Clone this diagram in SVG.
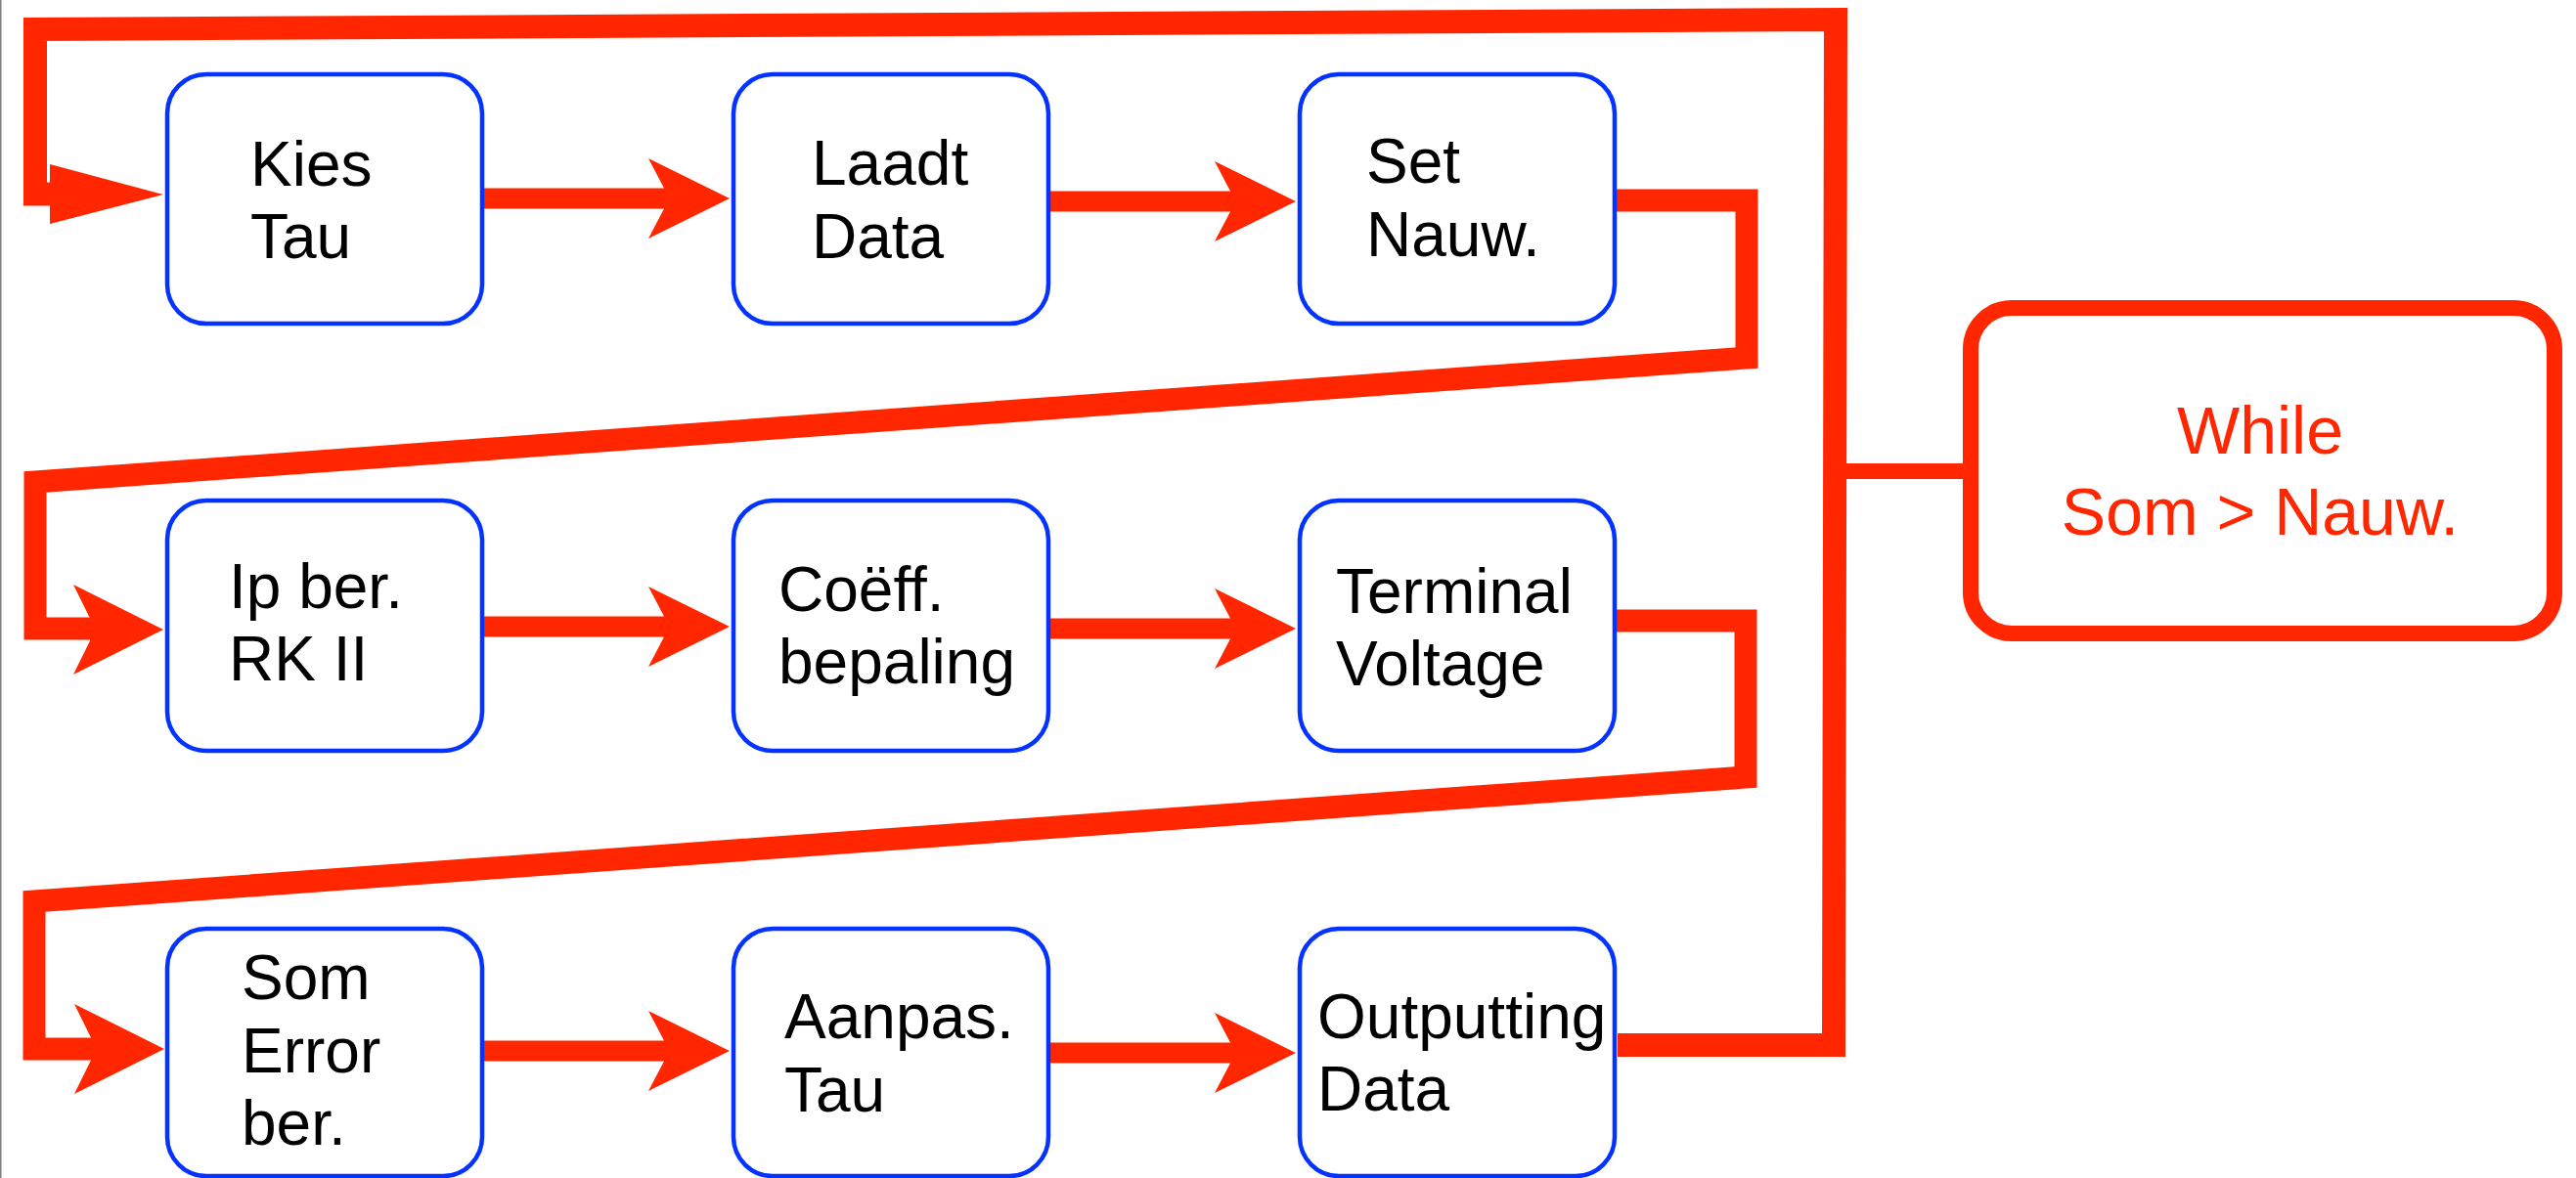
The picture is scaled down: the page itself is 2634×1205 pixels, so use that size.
<svg xmlns="http://www.w3.org/2000/svg" width="2634" height="1205" viewBox="0 0 2634 1205">
<style>
.box{fill:#ffffff;stroke:#0433ff;stroke-width:4.5}
.lbl{font-family:"Liberation Sans",Arial,sans-serif;font-size:64px;fill:#000000}
.wl{font-family:"Liberation Sans",Arial,sans-serif;font-size:68px;fill:#ff2600;text-anchor:middle}
.ln{fill:none;stroke:#ff2600;stroke-linejoin:miter;stroke-linecap:butt;stroke-miterlimit:10}
.hd{fill:#ff2600}
</style>
<defs>
<path id="ah" d="M0,0 L-83,-41 L-67,-10.5 L-67,10.5 L-83,41 Z"/>
<path id="ahL" d="M0,0 L-92,-46 L-75,-11.5 L-75,11.5 L-92,46 Z"/>
</defs>
<rect x="0" y="0" width="2634" height="1205" fill="#ffffff"/>
<line x1="0.75" y1="0" x2="0.75" y2="1205" stroke="#808080" stroke-width="1.5"/>

<g id="connectors">
<!-- row 1 -->
<line class="ln" x1="493" y1="203" x2="681" y2="203" stroke-width="21"/>
<use href="#ah" class="hd" x="746" y="203"/>
<line class="ln" x1="1073" y1="206" x2="1260" y2="206" stroke-width="21"/>
<use href="#ah" class="hd" x="1325" y="206"/>
<!-- row 2 -->
<line class="ln" x1="493" y1="641" x2="681" y2="641" stroke-width="21"/>
<use href="#ah" class="hd" x="746" y="641"/>
<line class="ln" x1="1073" y1="643" x2="1260" y2="643" stroke-width="21"/>
<use href="#ah" class="hd" x="1325" y="643"/>
<!-- row 3 -->
<line class="ln" x1="493" y1="1075" x2="681" y2="1075" stroke-width="21"/>
<use href="#ah" class="hd" x="746" y="1075"/>
<line class="ln" x1="1073" y1="1077" x2="1260" y2="1077" stroke-width="21"/>
<use href="#ah" class="hd" x="1325" y="1077"/>
<!-- Z connector row1 -> row2 -->
<polyline class="ln" points="1652,205 1786,205 1786,366 36,493 36,643 94,643" stroke-width="23"/>
<use href="#ahL" class="hd" x="167" y="644"/>
<!-- Z connector row2 -> row3 -->
<polyline class="ln" points="1652,635 1785,635 1785,795 35,922 35,1073 94,1073" stroke-width="23"/>
<use href="#ahL" class="hd" x="168" y="1073"/>
<!-- loop back -->
<polyline class="ln" points="1654,1069 1875,1069 1877,20 36,30 36,198.5 53,198.5" stroke-width="24"/>
<path class="hd" d="M167,199 L51,168 L51,229 Z"/>
<!-- link to while -->
<line class="ln" x1="1877" y1="482" x2="2008" y2="482" stroke-width="16"/>
</g>

<g id="kies-tau">
<rect class="box" x="171" y="76" width="322" height="255" rx="40" ry="40"/>
<text class="lbl" x="256" y="190">Kies</text>
<text class="lbl" x="256" y="264">Tau</text>
</g>
<g id="laadt-data">
<rect class="box" x="750" y="76" width="322" height="255" rx="40" ry="40"/>
<text class="lbl" x="830" y="189">Laadt</text>
<text class="lbl" x="830" y="264">Data</text>
</g>
<g id="set-nauw">
<rect class="box" x="1329" y="76" width="322" height="255" rx="40" ry="40"/>
<text class="lbl" x="1397" y="187">Set</text>
<text class="lbl" x="1397" y="262">Nauw.</text>
</g>
<g id="ip-ber">
<rect class="box" x="171" y="512" width="322" height="256" rx="40" ry="40"/>
<text class="lbl" x="234" y="622">Ip ber.</text>
<text class="lbl" x="234" y="696">RK II</text>
</g>
<g id="coeff-bepaling">
<rect class="box" x="750" y="512" width="322" height="256" rx="40" ry="40"/>
<text class="lbl" x="796" y="625">Coëff.</text>
<text class="lbl" x="796" y="699">bepaling</text>
</g>
<g id="terminal-voltage">
<rect class="box" x="1329" y="512" width="322" height="256" rx="40" ry="40"/>
<text class="lbl" x="1366" y="627">Terminal</text>
<text class="lbl" x="1366" y="701">Voltage</text>
</g>
<g id="som-error-ber">
<rect class="box" x="171" y="950" width="322" height="253" rx="40" ry="40"/>
<text class="lbl" x="247" y="1022">Som</text>
<text class="lbl" x="247" y="1097">Error</text>
<text class="lbl" x="247" y="1171">ber.</text>
</g>
<g id="aanpas-tau">
<rect class="box" x="750" y="950" width="322" height="253" rx="40" ry="40"/>
<text class="lbl" x="802" y="1062">Aanpas.</text>
<text class="lbl" x="802" y="1137">Tau</text>
</g>
<g id="outputting-data">
<rect class="box" x="1329" y="950" width="322" height="253" rx="40" ry="40"/>
<text class="lbl" x="1347" y="1062">Outputting</text>
<text class="lbl" x="1347" y="1136">Data</text>
</g>
<g id="while">
<rect x="2015" y="315" width="597" height="333" rx="42" ry="42" fill="#ffffff" stroke="#ff2600" stroke-width="16"/>
<text class="wl" x="2311" y="464">While</text>
<text class="wl" x="2311" y="547">Som &gt; Nauw.</text>
</g>
</svg>
